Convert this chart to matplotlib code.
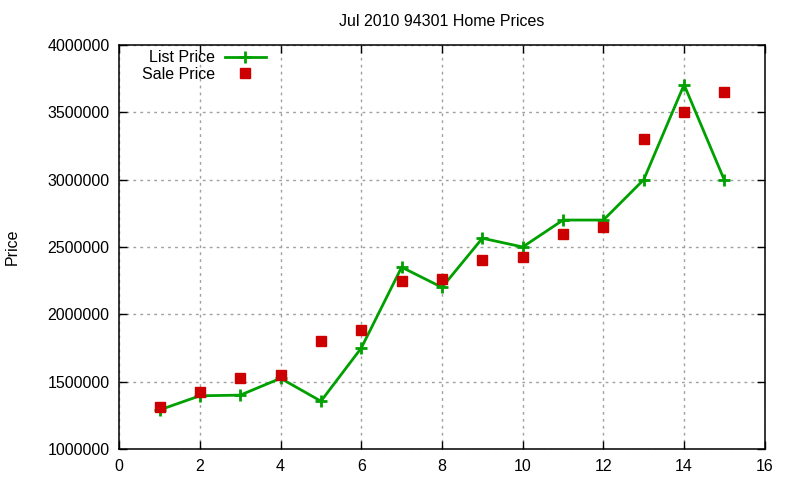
import matplotlib
matplotlib.use('Agg')
import matplotlib.pyplot as plt
from matplotlib.ticker import MultipleLocator, FuncFormatter

# Data
listing = [1, 2, 3, 4, 5, 6, 7, 8, 9, 10, 11, 12, 13, 14, 15]
list_price = [1290000, 1395000, 1400000, 1525000, 1355000, 1750000, 2350000,
              2200000, 2565000, 2500000, 2700000, 2700000, 3000000, 3705000, 2995000]
sale_price = [1314000, 1423000, 1530000, 1550000, 1804000, 1886000, 2250000,
              2265000, 2406000, 2428000, 2600000, 2650000, 3304000, 3505000, 3653000]

plt.rcParams['font.family'] = ['Liberation Sans', 'DejaVu Sans']
plt.rcParams['font.size'] = 11.5

fig = plt.figure(figsize=(8, 4.8), dpi=100)
ax = fig.add_axes([0.149, 0.0646, 0.807, 0.8417])

ax.plot(listing, list_price, color='#00a000', linewidth=2, marker='+',
        markersize=9, markeredgewidth=2, label='List Price', zorder=3)
ax.plot(listing, sale_price, linestyle='none', color='#cc0000', marker='s',
        markersize=7, label='Sale Price', zorder=4)

ax.set_xlim(0, 16)
ax.set_ylim(1000000, 4000000)
ax.xaxis.set_major_locator(MultipleLocator(2))
ax.yaxis.set_major_locator(MultipleLocator(500000))
ax.yaxis.set_major_formatter(FuncFormatter(lambda v, p: '%d' % v))

ax.grid(True, color='#a0a0a0', linestyle=(0, (2, 3)), linewidth=1)
ax.set_axisbelow(True)
ax.tick_params(direction='in', top=True, right=True, length=6, width=1,
               labelsize=11.5, pad=7, colors='black')
for s in ax.spines.values():
    s.set_linewidth(1.1)

ax.set_title('Jul 2010 94301 Home Prices', fontsize=11.5, pad=14)
ax.set_ylabel('Price', fontsize=11.5, labelpad=20)

ax.legend(loc='upper left', bbox_to_anchor=(0.018, 1.015), markerfirst=False,
          frameon=False, handlelength=2.6, handletextpad=0.6,
          labelspacing=0.1, borderaxespad=0.3, fontsize=11.5)

fig.savefig('out.png', dpi=100)
